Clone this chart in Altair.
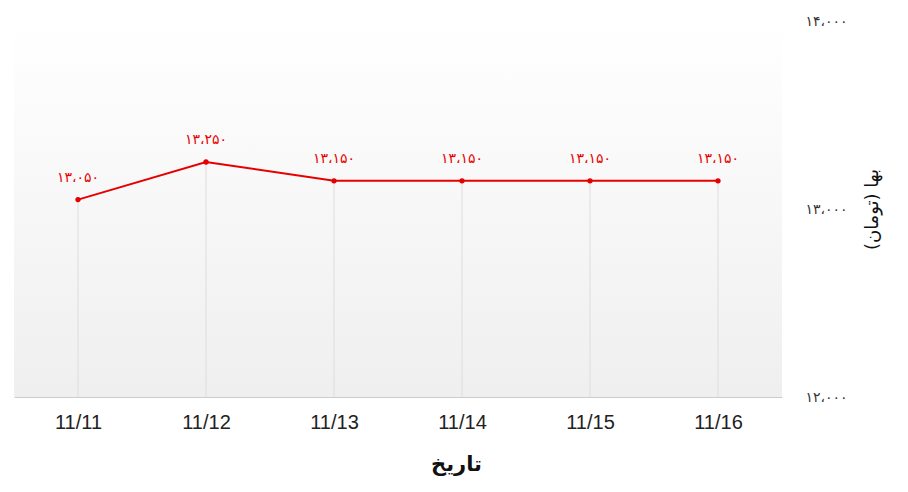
import altair as alt
import pandas as pd

dates = ["11/11", "11/12", "11/13", "11/14", "11/15", "11/16"]
prices = [13050, 13250, 13150, 13150, 13150, 13150]
tick_values = [12000, 13000, 14000]

fa_digits = str.maketrans("0123456789", "۰۱۲۳۴۵۶۷۸۹")


def fa_num(v):
    return f"{v:,}".replace(",", "،").translate(fa_digits)


price_labels = [fa_num(v) for v in prices]
tick_labels = [fa_num(v) for v in tick_values]

df = pd.DataFrame({"date": dates, "price": prices, "label": price_labels})

label_expr = "''"
for v, l in zip(tick_values, tick_labels):
    label_expr = f"datum.value == {v} ? '{l}' : ({label_expr})"

RED = "#e60000"
FONT_FA = "DejaVu Sans"
FONT_X = "Liberation Sans, Arial, sans-serif"
W, H = 768, 376

x_enc = alt.X(
    "date:N",
    sort=dates,
    scale=alt.Scale(type="point", padding=0.5),
    axis=alt.Axis(
        title="تاریخ",
        labelAngle=0,
        ticks=False,
        grid=False,
        domainColor="#cccccc",
        labelFont=FONT_X,
        labelFontSize=20,
        labelColor="#222222",
        labelPadding=15,
        titleFont=FONT_FA,
        titleFontSize=21,
        titleFontWeight="bold",
        titleColor="#111111",
        titlePadding=21,
        titleX=442,
        titleAlign="center",
    ),
)

y_enc = alt.Y(
    "price:Q",
    scale=alt.Scale(domain=[12000, 14000], nice=False, zero=False),
    axis=alt.Axis(
        orient="right",
        title="بها (تومان)",
        titleAngle=270,
        values=tick_values,
        labelExpr=label_expr,
        domain=False,
        ticks=False,
        grid=False,
        labelAlign="left",
        labelFont=FONT_FA,
        labelFontSize=14,
        labelColor="#333333",
        labelPadding=23,
        titleFont=FONT_FA,
        titleFontSize=18,
        titleFontWeight="normal",
        titleColor="#111111",
        titlePadding=34,
    ),
)

gradient = alt.LinearGradient(
    gradient="linear",
    x1=0, y1=0, x2=0, y2=1,
    stops=[
        alt.GradientStop(offset=0, color="#ffffff"),
        alt.GradientStop(offset=1, color="#efefef"),
    ],
)

bg = alt.Chart(pd.DataFrame({"k": [0]})).mark_rect(fill=gradient).encode(
    x=alt.value(0), x2=alt.value(W), y=alt.value(0), y2=alt.value(H)
)

base = alt.Chart(df).encode(x=x_enc)

rules = base.mark_rule(color="#dddddd", strokeWidth=1).encode(
    y=y_enc, y2=alt.datum(12000)
)
line = base.mark_line(color=RED, strokeWidth=2).encode(y=y_enc)
points = base.mark_circle(color=RED, size=28, opacity=1).encode(y=y_enc)
texts = base.mark_text(
    color=RED, font=FONT_FA, fontSize=14, baseline="middle", dy=-22
).encode(y=y_enc, text="label:N")

chart = (
    alt.layer(bg, rules, line, points, texts)
    .properties(
        width=W,
        height=H,
        padding={"left": 6, "top": 6, "right": 5, "bottom": 5},
    )
    .configure(background="white")
    .configure_view(stroke="transparent")
)

chart.save("out.html", embed_options={"renderer": "svg", "actions": False})
